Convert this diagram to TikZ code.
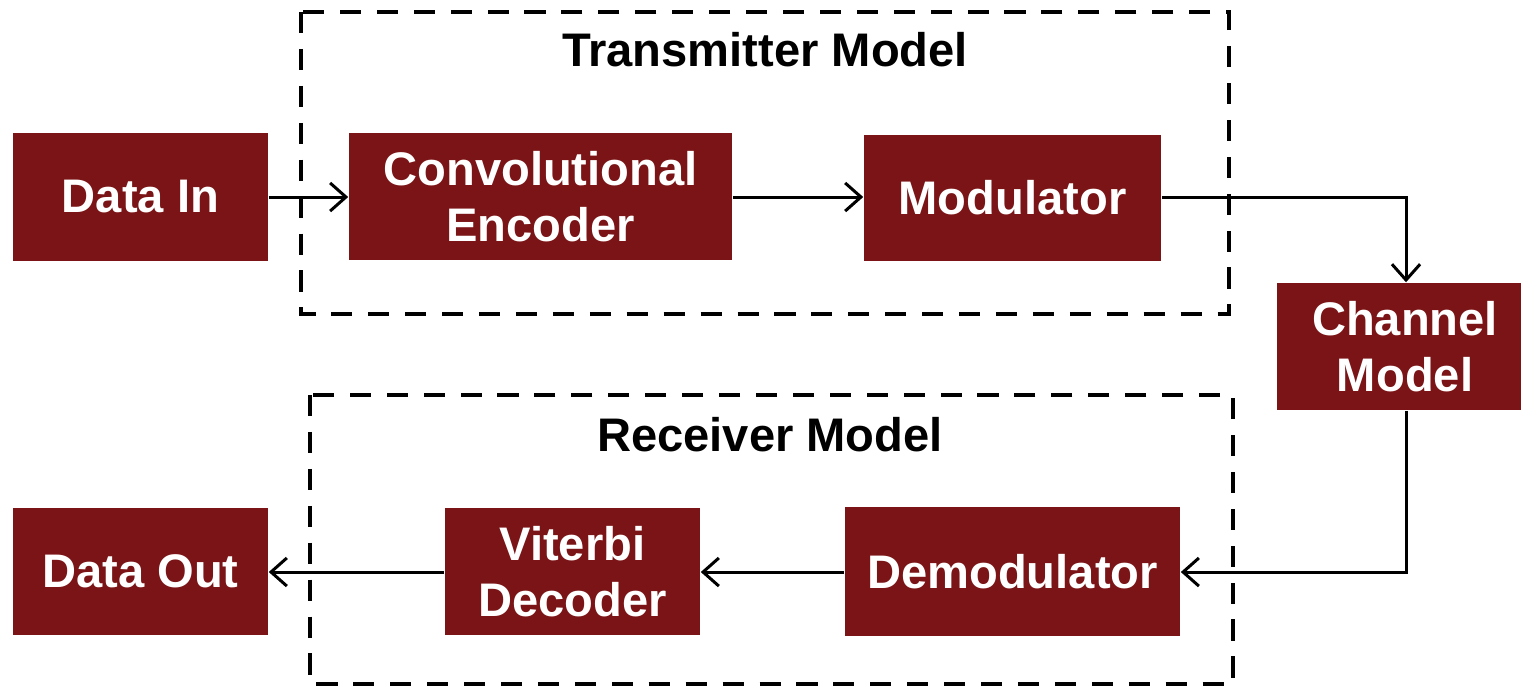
\documentclass[tikz,border=0pt]{standalone}
\usepackage{fontspec}
\setmainfont{Liberation Sans}
\usetikzlibrary{arrows.meta}
\definecolor{boxred}{HTML}{7A1416}
\tikzset{
  blk/.style={fill=boxred, draw=none, text=white, font=\bfseries\fontsize{13.4}{16}\selectfont, align=center, inner sep=0pt},
  conn/.style={line width=0.85pt, -{Straight Barb[length=4.5pt, width=8pt, line width=0.85pt]}},
  region/.style={draw, line width=1.15pt, dash pattern=on 6pt off 4.5pt},
  ttl/.style={font=\bfseries\fontsize{13.4}{16}\selectfont, inner sep=0pt}
}
\begin{document}
\begin{tikzpicture}[x=0.01cm, y=-0.01cm]
\useasboundingbox (0,0) rectangle (1522,687);
\draw[region] (301,12) rectangle (1229,314);
\draw[region] (310,395) rectangle (1233,684);
\node[ttl] (ttx) at (765,50) {Transmitter Model};
\node[ttl] (trx) at (770,435) {Receiver Model};
\node[blk, minimum width=2.55cm, minimum height=1.28cm] (din) at (140.5,197) {Data In};
\node[blk, minimum width=3.83cm, minimum height=1.27cm] (enc) at (540.5,196.5) {Convolutional\\Encoder};
\node[blk, minimum width=2.97cm, minimum height=1.26cm] (mod) at (1012.5,198) {Modulator};
\node[blk, minimum width=2.44cm, minimum height=1.27cm] (ch) at (1399,346.5) {\hspace*{0.12cm}Channel\\\hspace*{0.12cm}Model};
\node[blk, minimum width=3.35cm, minimum height=1.29cm] (dem) at (1012.5,571.5) {Demodulator};
\node[blk, minimum width=2.55cm, minimum height=1.27cm] (vit) at (572.5,571.5) {Viterbi\\Decoder};
\node[blk, minimum width=2.55cm, minimum height=1.27cm] (dout) at (140.5,571.5) {Data Out};
\draw[conn] (din.east |- 0,197) -- (enc.west |- 0,197);
\draw[conn] (enc.east |- 0,197) -- (mod.west |- 0,197);
\draw[conn] (mod.east |- 0,197) -| (1406,0 |- ch.north);
\draw[conn] (1406,0 |- ch.south) |- (dem.east |- 0,572);
\draw[conn] (dem.west |- 0,572) -- (vit.east |- 0,572);
\draw[conn] (vit.west |- 0,572) -- (dout.east |- 0,572);
\end{tikzpicture}
\end{document}
